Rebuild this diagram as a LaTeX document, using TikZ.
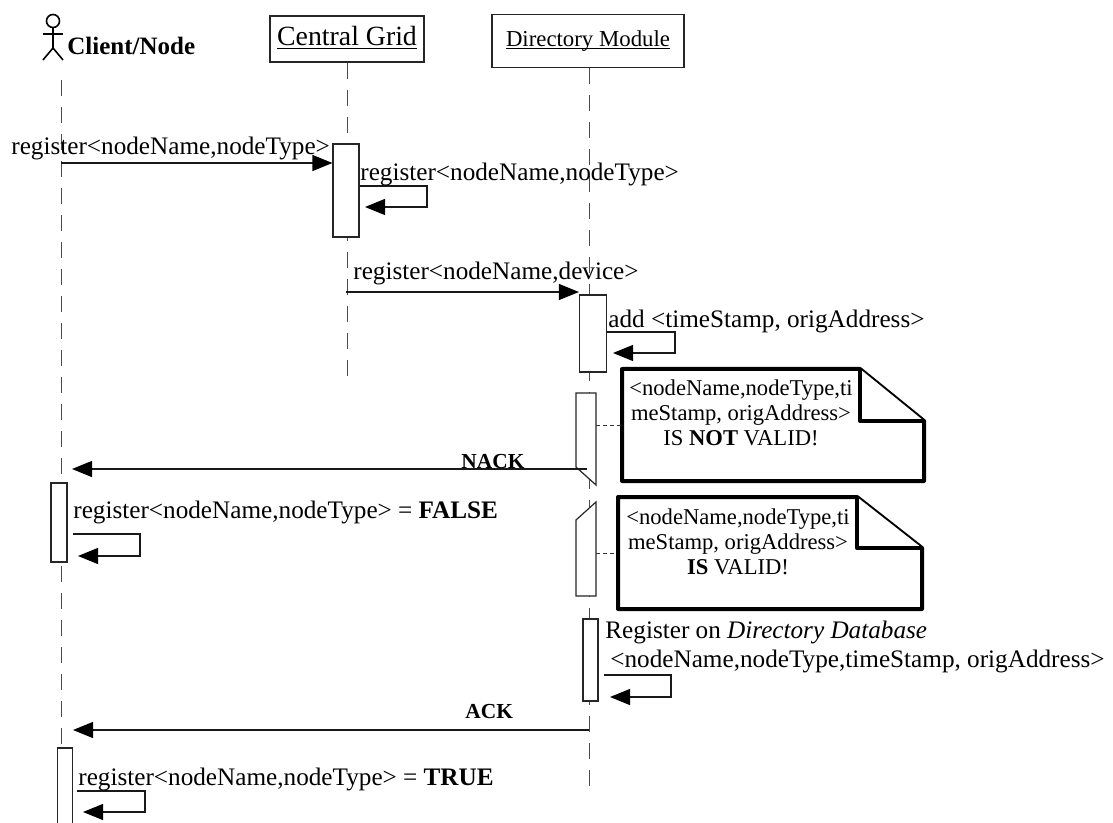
\documentclass[tikz,border=0pt]{standalone}
\usepackage{fontspec}
\setmainfont{Liberation Serif}
\usetikzlibrary{arrows.meta}
\usetikzlibrary{positioning}

\newcommand{\msgfont}{\fontsize{12.6}{14}\selectfont}
\newcommand{\notefont}{\fontsize{11.3}{12.5}\selectfont}
\tikzset{
  msg/.style={draw=black!90,line width=0.6pt,-{Triangle[length=10pt,width=8pt,color=black]}},
  life/.style={draw=black!70,line width=0.45pt,dash pattern=on 8pt off 5.5pt},
  activation/.style={draw=black!85,fill=white,line width=0.6pt,inner sep=0pt,minimum width=#1},
  head/.style={draw=black!85,line width=0.6pt,inner sep=0pt},
  label/.style={font=\msgfont,anchor=base west,inner sep=0pt},
  ack/.style={font=\fontsize{10.7}{12}\selectfont\bfseries,anchor=base west,inner sep=0pt},
  notebox/.style={draw=black,fill=white,line width=2pt,line join=round},
  notetext/.style={font=\notefont,align=center,inner sep=0pt},
  tether/.style={draw=black!80,line width=0.4pt,dash pattern=on 2pt off 1.5pt},
  actor/.style={draw=black,line width=0.8pt},
}

\begin{document}
\begin{tikzpicture}[x=0.5pt,y=-0.5pt]
\clip (0,0) rectangle (1113,823);
\fill[white] (0,0) rectangle (1113,823);

% heads
\node[head,minimum width=77pt,minimum height=23pt] (grid) at (347,39) {\fontsize{13.9}{16}\selectfont\vphantom{Gy}\underline{\smash{Central Grid}}};
\node[head,minimum width=96pt,minimum height=26.5pt] (directory) at (588,41) {\fontsize{11.4}{13}\selectfont\vphantom{Gy}\underline{\smash{Directory Module}}};
\node[font=\fontsize{12.5}{14}\selectfont\bfseries,anchor=base west,inner sep=0pt] (client) at (67,55) {Client/Node};

% actor
\coordinate (neck) at (53,27);
\coordinate (hip) at (53,48);
\coordinate (armL) at (43,34);
\coordinate (armR) at (63,34);
\coordinate (legL) at (43,60);
\coordinate (legR) at (63,60);
\draw[actor] (53,21) circle (6.5);
\draw[actor] (neck) -- (hip);
\draw[actor] (armL) -- (armR);
\draw[actor] (legL) -- (hip) -- (legR);

% life lines
\coordinate (clientTop) at (61,80);
\coordinate (clientEnd) at (61,823);
\coordinate (gridEnd) at (347,376);
\coordinate (directoryEnd) at (589,790);
\draw[life] (clientTop) -- (clientEnd);
\draw[life] (grid.south) -- (gridEnd);
\draw[life] (directory.south -| directoryEnd) -- (directoryEnd);

% activations
\node[activation=13pt,minimum height=46.5pt] (actGrid) at (346,190.5) {};
\node[activation=13.5pt,minimum height=38.5pt] (actDirA) at (593,333.5) {};
\node[activation=8pt,minimum height=39.5pt] (actClientA) at (59,522.5) {};
\node[activation=7.5pt,minimum height=41pt] (actDirB) at (590.5,660) {};
\node[activation=7.5pt,minimum height=48pt] (actClientB) at (65,796) {};

% broken activations
\coordinate (nackTL) at (576,393);
\coordinate (nackTR) at (596,393);
\coordinate (nackBL) at (576,467);
\coordinate (nackBR) at (596,485);
\coordinate (ackTL) at (576,520);
\coordinate (ackTR) at (596,502);
\coordinate (ackBL) at (576,596);
\coordinate (ackBR) at (596,596);
\draw[draw=black!85,fill=white,line width=0.6pt] (nackTL) -- (nackTR) -- (nackBR) -- (nackBL) -- cycle;
\draw[draw=black!85,fill=white,line width=0.6pt] (ackTL) -- (ackTR) -- (ackBR) -- (ackBL) -- cycle;

% notes
\draw[notebox] (622,369) -- (860,369) -- (924,421) -- (924,481) -- (622,481) -- cycle;
\draw[notebox] (860,369) -- (860,421) -- (924,421);
\draw[notebox] (618,497) -- (857,497) -- (922,548) -- (922,609) -- (618,609) -- cycle;
\draw[notebox] (857,497) -- (857,548) -- (922,548);
\node[notetext] (noteNack) at (741,413) {<nodeName,nodeType,ti\\meStamp, origAddress>\\IS \textbf{NOT} VALID!};
\node[notetext] (noteAck) at (738,542) {<nodeName,nodeType,ti\\meStamp, origAddress>\\\textbf{IS} VALID!};
\coordinate (nackTether) at (596,425);
\coordinate (nackNote) at (621,425);
\coordinate (ackTether) at (596,553);
\coordinate (ackNote) at (617,553);
\draw[tether] (nackTether) -- (nackNote);
\draw[tether] (ackTether) -- (ackNote);

% messages
\coordinate (m1) at (61,163);
\draw[msg] (m1) -- (m1 -| actGrid.west);
\node[label] (m1text) at (11,155) {register<nodeName,nodeType>};

\coordinate (s1a) at (427,186);
\coordinate (s1b) at (427,207);
\coordinate (s1c) at (365,207);
\draw[msg] (s1a -| actGrid.east) -- (s1a) -- (s1b) -- (s1c);
\node[label] (s1text) at (360,181) {register<nodeName,nodeType>};

\coordinate (m2) at (346,292);
\draw[msg] (m2) -- (m2 -| actDirA.west);
\node[label] (m2text) at (353,280) {register<nodeName,device>};

\coordinate (s2a) at (675,332);
\coordinate (s2b) at (675,353);
\coordinate (s2c) at (613,353);
\draw[msg] (s2a -| actDirA.east) -- (s2a) -- (s2b) -- (s2c);
\node[label] (s2text) at (608,328) {add <timeStamp, origAddress>};

\coordinate (nackFrom) at (587,469);
\coordinate (nackTo) at (72,469);
\draw[msg] (nackFrom) -- (nackTo);
\node[ack] (nack) at (461,468) {NACK};

\coordinate (s3a) at (140,534);
\coordinate (s3b) at (140,556);
\coordinate (s3c) at (78,556);
\coordinate (s3d) at (73,534);
\draw[msg] (s3d) -- (s3a) -- (s3b) -- (s3c);
\node[label] (s3text) at (73,518) {register<nodeName,nodeType> = \textbf{FALSE}};

\coordinate (s4a) at (671,675);
\coordinate (s4b) at (671,697);
\coordinate (s4c) at (610,697);
\coordinate (s4d) at (604,675);
\draw[msg] (s4d) -- (s4a) -- (s4b) -- (s4c);
\node[label] (s4text) at (605,638) {Register on \textit{Directory Database}};
\node[label] (s4more) at (610,667) {<nodeName,nodeType,timeStamp, origAddress>};

\coordinate (ackFrom) at (589,730);
\coordinate (ackTo) at (73,730);
\draw[msg] (ackFrom) -- (ackTo);
\node[ack] (ackLabel) at (465,718) {ACK};

\coordinate (s5a) at (145,791);
\coordinate (s5b) at (145,812);
\coordinate (s5c) at (83,812);
\coordinate (s5d) at (77,791);
\draw[msg] (s5d) -- (s5a) -- (s5b) -- (s5c);
\node[label] (s5text) at (78,785) {register<nodeName,nodeType> = \textbf{TRUE}};

\end{tikzpicture}
\end{document}
